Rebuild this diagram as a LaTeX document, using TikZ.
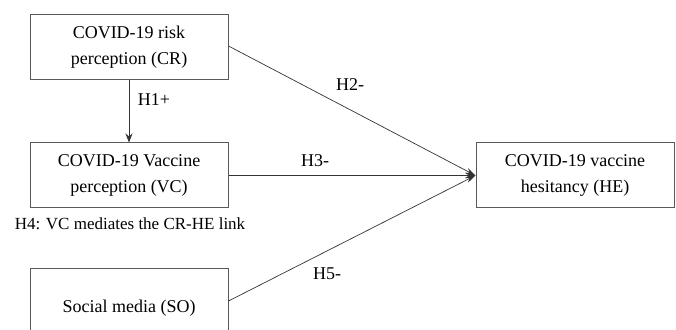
\documentclass[tikz,border=0pt]{standalone}
\usepackage{fontspec}
\setmainfont{Liberation Serif}
\usetikzlibrary{arrows.meta}
\begin{document}
\begin{tikzpicture}[x=1pt,y=1pt,
  box/.style={draw=black!65, line width=1pt, minimum width=198pt, minimum height=65pt, inner sep=0pt, align=center, font=\fontsize{18}{26}\selectfont},
  conn/.style={draw=black!80, line width=0.7pt},
  lab/.style={font=\fontsize{18}{22}\selectfont, inner sep=0pt}]
\useasboundingbox (0,0) rectangle (676,329);
\clip (0,0) rectangle (676,329);
\node[box] (CR) at (129,282) {COVID-19 risk\\perception (CR)};
\node[box] (VC) at (129,153.5) {COVID-19 Vaccine\\perception (VC)};
\node[box, minimum height=80pt] (SO) at (129,21) {Social media (SO)};
\node[box] (HE) at (575,153.5) {COVID-19 vaccine\\hesitancy (HE)};
\coordinate (tip) at (HE.west);
\draw[conn, -{Stealth[length=9pt,width=7pt]}] (CR.south) -- (VC.north);
\draw[conn, -{Stealth[length=10pt,width=6pt]}] (CR.east |- 0,283) -- (tip);
\draw[conn, -{Stealth[length=10pt,width=6pt]}] (VC.east) -- (tip);
\draw[conn, -{Stealth[length=10pt,width=6pt]}] (SO.east |- 0,28) -- (tip);
\node[lab] (h1) at (154,229) {H1+};
\node[lab] (h2) at (350,244) {H2-};
\node[lab] (h3) at (315,168) {H3-};
\node[lab] (h5) at (327,55) {H5-};
\node[lab, font=\fontsize{17}{20}\selectfont] (h4) at (130,105) {H4: VC mediates the CR-HE link};
\end{tikzpicture}
\end{document}
